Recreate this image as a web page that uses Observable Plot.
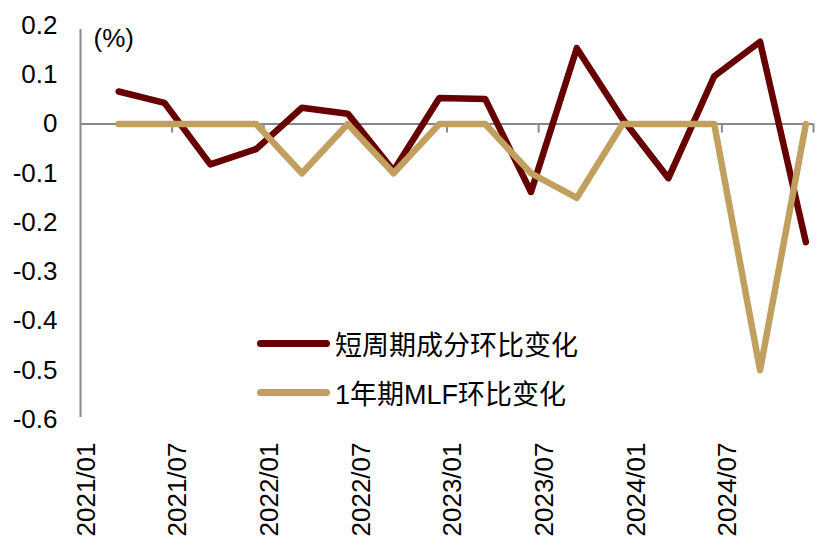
<!DOCTYPE html>
<html><head><meta charset="utf-8">
<script src="https://cdn.jsdelivr.net/npm/d3@7"></script>
<script src="https://cdn.jsdelivr.net/npm/@observablehq/plot@0.6"></script>
<style>
body{margin:0;background:#fff;}
#wrap{position:relative;width:826px;height:552px;font-family:"Liberation Sans",Arial,"Noto Sans CJK SC",sans-serif;}
.legend{position:absolute;left:257px;display:flex;align-items:center;height:36px;font-size:27px;color:#000;white-space:nowrap;}
.legend .sw{display:inline-block;width:73px;height:7px;border-radius:3.5px;margin-right:5px;}
</style>
</head><body>
<div id="wrap"></div>
<script>
// Quarter-end categories
const quarters = ["2021/03","2021/06","2021/09","2021/12","2022/03","2022/06","2022/09","2022/12",
                  "2023/03","2023/06","2023/09","2023/12","2024/03","2024/06","2024/09","2024/12"];
// 短周期成分环比变化
const shortCycle = [0.066,0.043,-0.082,-0.051,0.033,0.021,-0.095,0.053,0.051,-0.138,0.154,0.01,-0.11,0.097,0.167,-0.24];
// 1年期MLF环比变化
const mlf = [0,0,0,0,-0.1,0,-0.1,0,0,-0.1,-0.15,0,0,0,-0.5,0];
const xTickLabels = ["2021/01","2021/07","2022/01","2022/07","2023/01","2023/07","2024/01","2024/07"];
const yTicks = [0.2,0.1,0,-0.1,-0.2,-0.3,-0.4,-0.5,-0.6];
const seriesNames = ["短周期成分环比变化","1年期MLF环比变化"];
const colors = ["#660000","#C09F5F"];

// month index helpers (monthly category axis starting 2021/01)
const monthIndex = s => { const [y,m] = s.split("/").map(Number); return (y-2021)*12 + (m-1); };
const rows = [];
quarters.forEach((q,i) => {
  rows.push({x: monthIndex(q) + 0.5, v: shortCycle[i], s: seriesNames[0]});
});
quarters.forEach((q,i) => {
  rows.push({x: monthIndex(q) + 0.5, v: mlf[i], s: seriesNames[1]});
});
const tickPos = xTickLabels.map(monthIndex);
const tickMarks = tickPos.slice(1).concat([48]);
const fmt = d => String(+d.toFixed(1));

const chart = Plot.plot({
  width: 826, height: 552,
  marginLeft: 80, marginRight: 13, marginTop: 25, marginBottom: 133,
  style: {fontSize: "26px", fontFamily: "'Liberation Sans', Arial, 'Noto Sans CJK SC', sans-serif", background: "#fff", color: "#000"},
  x: {domain: [0, 48], axis: null},
  y: {domain: [-0.6, 0.2], axis: null},
  color: {domain: seriesNames, range: colors},
  marks: [
    Plot.ruleY([0], {stroke: "#888", strokeWidth: 2}),
    Plot.ruleX(tickMarks, {x: d => d, y1: 0, y2: 0, insetBottom: -9, stroke: "#888", strokeWidth: 2}),
    Plot.ruleX([0], {y1: -0.6, y2: 0.2, stroke: "#888", strokeWidth: 2, insetTop: -2, insetBottom: -4}),
    Plot.text(yTicks, {y: d => d, frameAnchor: "left", text: fmt, textAnchor: "end", dx: -23, fill: "#000"}),
    Plot.text(tickPos, {x: d => d, y: -0.6, text: (d, i) => xTickLabels[i], rotate: -90, textAnchor: "end", dy: 23, dx: 6, fill: "#000"}),
    Plot.text(["(%)"], {frameAnchor: "top-left", text: d => d, textAnchor: "start", lineAnchor: "middle", dx: 13, dy: 13, fill: "#000"}),
    Plot.line(rows, {x: "x", y: "v", z: "s", stroke: "s", strokeWidth: 6.5, strokeLinejoin: "round", strokeLinecap: "round"})
  ]
});
const wrap = document.getElementById("wrap");
wrap.appendChild(chart);
const legendTops = [343 - 18, 392 - 18];
seriesNames.forEach((name, i) => {
  const row = document.createElement("div");
  row.className = "legend";
  row.style.top = legendTops[i] + "px";
  const sw = document.createElement("span");
  sw.className = "sw";
  sw.style.background = colors[i];
  row.appendChild(sw);
  row.appendChild(document.createTextNode(name));
  wrap.appendChild(row);
});
</script>
</body></html>
